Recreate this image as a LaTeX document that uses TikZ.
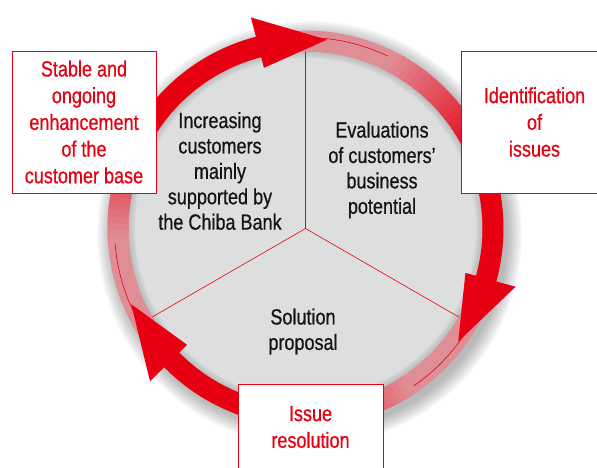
\documentclass[tikz,border=0pt]{standalone}
\usepackage{fontspec}
\setmainfont{Liberation Sans}[FakeStretch=0.82,FakeBold=0.6]
\usetikzlibrary{calc}
\definecolor{ribbon}{RGB}{230,0,18}
\definecolor{ribbonpale}{RGB}{224,142,150}
\definecolor{discgray}{RGB}{221,222,222}
\definecolor{textdark}{RGB}{20,20,20}

\begin{document}
\begin{tikzpicture}[x=1pt,y=1pt,
    redbox/.style={draw=ribbon,fill=white,line width=0.8pt,text=ribbon,align=center,inner sep=0pt,
      font=\fontsize{22}{26.7}\selectfont},
    phase/.style={align=center,text=textdark,font=\fontsize{22}{25.4}\selectfont}]
    \useasboundingbox (0,0) rectangle (597,467);

    % Define the centre of the cycle
    \coordinate (O) at (305.5,238.5);

    % Draw the soft shadow
    \foreach \i [evaluate=\i as \r using 198+1.6*\i] in {0,...,9}
      \fill[black,opacity=0.03] ($(O)+(4,-5)$) circle[radius=\r pt];

    % Draw the disc
    \fill[discgray] (O) circle[radius=177pt];
    \foreach \w in {2,4,...,14}
      \draw[black,opacity=0.02,line width=\w pt] (O) circle[radius=177pt];

    % Draw the three dividers
    \foreach \a/\n in {90/top,-30/right,-150/left}
      \coordinate (\n) at ($(O)+(\a:177pt)$);
    \draw[ribbon,line width=0.6pt] (top) -- (O) -- (right) (O) -- (left);

    % Draw the pale back of the ribbon
    \draw[ribbonpale,line width=21pt] (O) circle[radius=187.5pt];
    \draw[ribbon,line width=0.6pt] (O) circle[radius=191pt];

    % Draw the three arrows
    \begin{scope}[shift={(O)}]
    \foreach \k in {0,1,2} {
      \pgfmathsetmacro{\b}{104.5-120*\k}
      % fading part
      \foreach \j in {0,...,19} {
        \pgfmathsetmacro{\s}{\b+80-2*\j}
        \pgfmathtruncatemacro{\p}{5*\j}
        \draw[ribbon!\p!ribbonpale,line width=21pt] (\s:187.5pt) arc[start angle=\s,end angle=\s-2.3,radius=187.5pt];
      }
      % solid part
      \draw[ribbon,line width=21pt] (\b+40:187.5pt) arc[start angle=\b+40,end angle=\b-0.5,radius=187.5pt];
      % head
      \fill[ribbon] (\b:166pt) -- (\b:218pt) -- (\b-21:190pt) -- cycle;
    }
    \end{scope}

    % Label the three stages
    \node[phase] (increase) at (220,296) {Increasing\\customers\\mainly\\supported by\\the Chiba Bank};
    \node[phase] (evaluate) at (382,297) {Evaluations\\of customers’\\business\\potential};
    \node[phase] (propose) at (303,135.5) {Solution\\proposal};

    % Draw the outcome boxes
    \node[redbox,minimum width=144pt,minimum height=142pt] (base) at (84,345) {Stable and\\ongoing\\enhancement\\of the\\customer base};
    \node[redbox,minimum width=147pt,minimum height=142pt] (ident) at (534.5,345) {Identification\\of\\issues};
    \node[redbox,minimum width=145pt,minimum height=86pt] (resol) at (310.5,40) {Issue\\resolution};
\end{tikzpicture}
\end{document}
